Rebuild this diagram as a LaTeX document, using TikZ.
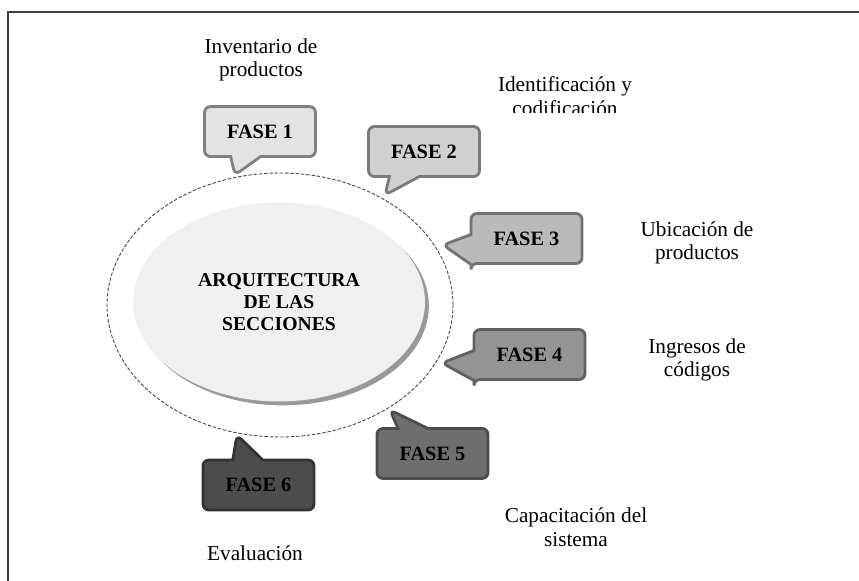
\documentclass[tikz,border=0pt]{standalone}
\usepackage{fontspec}
\setmainfont{Liberation Serif}
\usetikzlibrary{shapes.geometric,shapes.callouts,shadows}
\begin{document}
\begin{tikzpicture}[x=0.02cm, y=-0.02cm,
    fase/.style={rectangle callout, rounded corners=0.12cm, line width=1.6pt,
      minimum width=2.22cm, minimum height=1.0cm, callout pointer width=0.6cm,
      font=\fontsize{11.6}{13}\selectfont\bfseries},
    etiqueta/.style={align=center, font=\fontsize{12.1}{13.4}\selectfont},
    anillo/.style={ellipse, draw=black!72, line width=0.5pt, dash pattern=on 2pt off 1pt}]
  \useasboundingbox (0,0) rectangle (859,581);
  \draw [black!75, line width=1.1pt] (8,581) -- (8,12) -- (859,12);
  % anillo y centro
  \node [anillo, minimum width=6.92cm, minimum height=5.28cm] (ring) at (280,305) {};
  \node [ellipse, fill=black!6, minimum width=5.84cm, minimum height=3.98cm,
    drop shadow={shadow xshift=2.2pt, shadow yshift=-2.2pt, fill=black!40, opacity=1},
    align=center, font=\fontsize{11.2}{12.4}\selectfont\bfseries] (arq) at (279,302)
    {ARQUITECTURA\\DE LAS\\SECCIONES};
  % puntas de las fases
  \coordinate (t1) at (235,175);
  \coordinate (t2) at (385,195);
  \coordinate (t3) at (443,245);
  \coordinate (t4) at (442,363);
  \coordinate (t5) at (390,410);
  \coordinate (t6) at (237,435);
  \node [fase, fill=black!11, draw=black!50, callout absolute pointer={(t1)}] (f1) at (260,131.5) {FASE 1};
  \node [fase, fill=black!18, draw=black!52, callout absolute pointer={(t2)}] (f2) at (424,151.5) {FASE 2};
  \node [fase, fill=black!27, draw=black!55, callout absolute pointer={(t3)}] (f3) at (526.5,238.5) {FASE 3};
  \node [fase, fill=black!42, draw=black!62, callout absolute pointer={(t4)}] (f4) at (529.5,354.5) {FASE 4};
  \node [fase, fill=black!57, draw=black!70, callout absolute pointer={(t5)}] (f5) at (432.5,453.5) {FASE 5};
  \node [fase, fill=black!70, draw=black!80, callout absolute pointer={(t6)}] (f6) at (258.5,485) {FASE 6};
  % etiquetas
  \node [etiqueta] (l1) at (261,60) {Inventario de\\productos};
  \begin{scope}
    \clip (480,60) rectangle (660,113);
    \node [etiqueta] (l2) at (565,96) {Identificación y\\codificación};
  \end{scope}
  \node [etiqueta] (l3) at (697,243) {Ubicación de\\productos};
  \node [etiqueta] (l4) at (697,360) {Ingresos de\\códigos};
  \node [etiqueta] (l5) at (576,527) {Capacitación del\\sistema};
  \node [etiqueta] (l6) at (255,553) {Evaluación};
\end{tikzpicture}
\end{document}
